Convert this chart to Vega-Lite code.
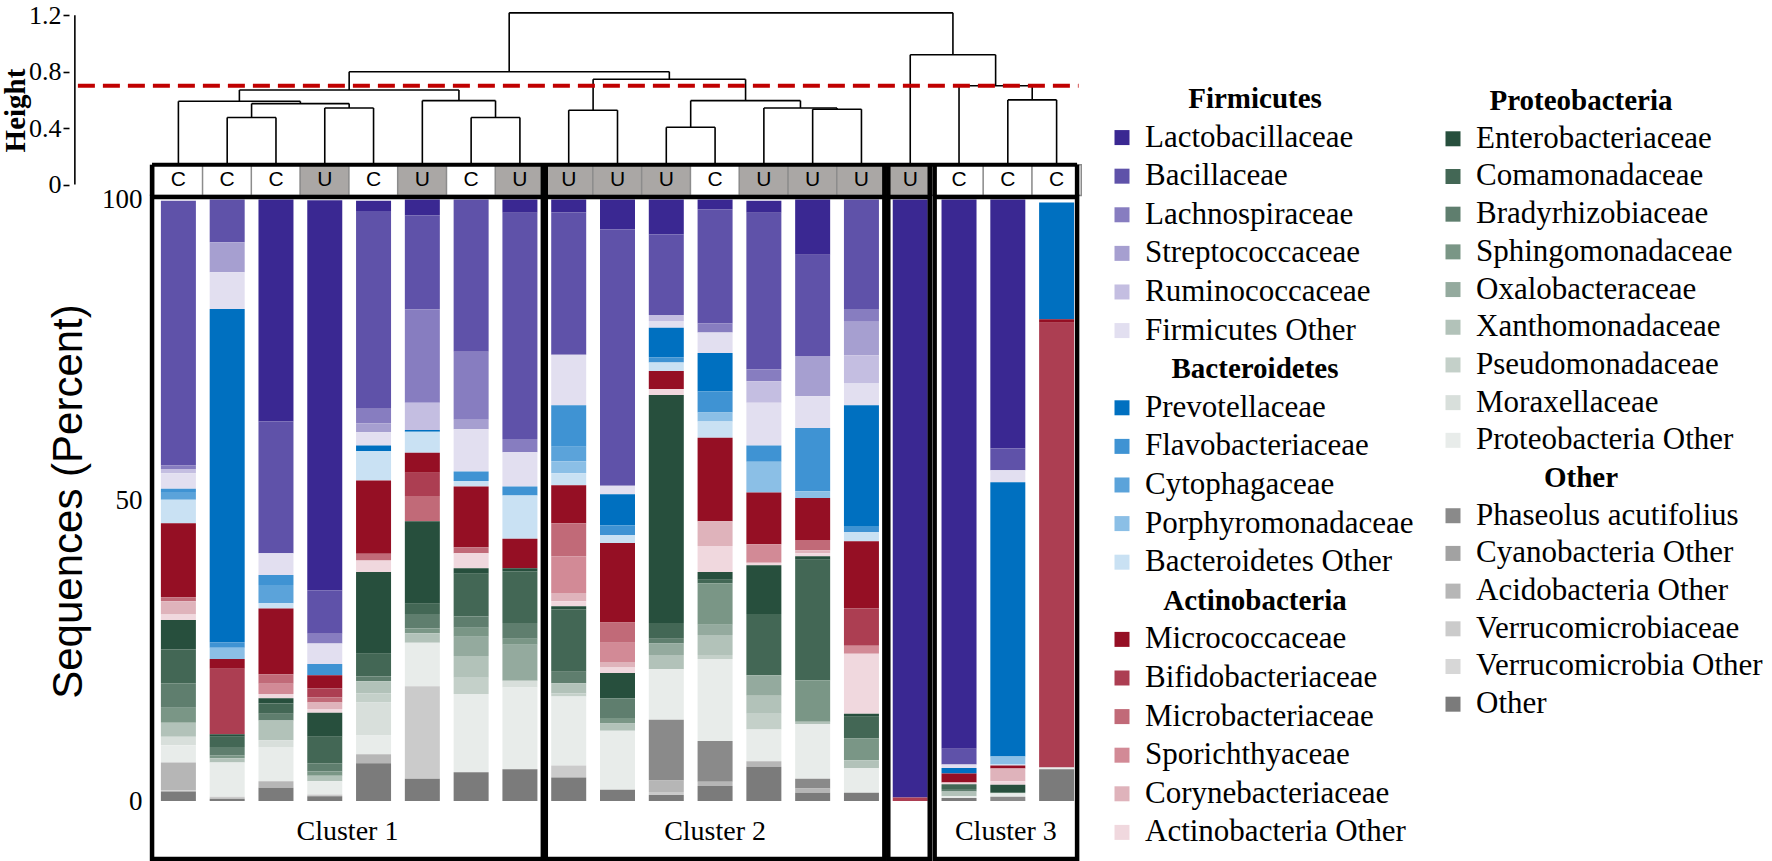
{
"$schema": "https://vega.github.io/schema/vega-lite/v6.json",
"background": "white",
"padding": {"left": 1, "top": 2, "right": 0, "bottom": 0},
"config": {"view": {"stroke": null}, "axis": {"grid": false}},
"datasets": {
"legend": [
{"col":0,"line":0,"header":"Firmicutes"},
{"col":0,"line":1,"taxon":"Lactobacillaceae","rank":0},
{"col":0,"line":2,"taxon":"Bacillaceae","rank":1},
{"col":0,"line":3,"taxon":"Lachnospiraceae","rank":2},
{"col":0,"line":4,"taxon":"Streptococcaceae","rank":3},
{"col":0,"line":5,"taxon":"Ruminococcaceae","rank":4},
{"col":0,"line":6,"taxon":"Firmicutes Other","rank":5},
{"col":0,"line":7,"header":"Bacteroidetes"},
{"col":0,"line":8,"taxon":"Prevotellaceae","rank":6},
{"col":0,"line":9,"taxon":"Flavobacteriaceae","rank":7},
{"col":0,"line":10,"taxon":"Cytophagaceae","rank":8},
{"col":0,"line":11,"taxon":"Porphyromonadaceae","rank":9},
{"col":0,"line":12,"taxon":"Bacteroidetes Other","rank":10},
{"col":0,"line":13,"header":"Actinobacteria"},
{"col":0,"line":14,"taxon":"Micrococcaceae","rank":11},
{"col":0,"line":15,"taxon":"Bifidobacteriaceae","rank":12},
{"col":0,"line":16,"taxon":"Microbacteriaceae","rank":13},
{"col":0,"line":17,"taxon":"Sporichthyaceae","rank":14},
{"col":0,"line":18,"taxon":"Corynebacteriaceae","rank":15},
{"col":0,"line":19,"taxon":"Actinobacteria Other","rank":16},
{"col":1,"line":0,"header":"Proteobacteria"},
{"col":1,"line":1,"taxon":"Enterobacteriaceae","rank":17},
{"col":1,"line":2,"taxon":"Comamonadaceae","rank":18},
{"col":1,"line":3,"taxon":"Bradyrhizobiaceae","rank":19},
{"col":1,"line":4,"taxon":"Sphingomonadaceae","rank":20},
{"col":1,"line":5,"taxon":"Oxalobacteraceae","rank":21},
{"col":1,"line":6,"taxon":"Xanthomonadaceae","rank":22},
{"col":1,"line":7,"taxon":"Pseudomonadaceae","rank":23},
{"col":1,"line":8,"taxon":"Moraxellaceae","rank":24},
{"col":1,"line":9,"taxon":"Proteobacteria Other","rank":25},
{"col":1,"line":10,"header":"Other"},
{"col":1,"line":11,"taxon":"Phaseolus acutifolius","rank":26},
{"col":1,"line":12,"taxon":"Cyanobacteria Other","rank":27},
{"col":1,"line":13,"taxon":"Acidobacteria Other","rank":28},
{"col":1,"line":14,"taxon":"Verrucomicrobiaceae","rank":29},
{"col":1,"line":15,"taxon":"Verrucomicrobia Other","rank":30},
{"col":1,"line":16,"taxon":"Other","rank":31}
],
"samples": [
{"s":0,"group":"C"},{"s":1,"group":"C"},{"s":2,"group":"C"},{"s":3,"group":"U"},{"s":4,"group":"C"},{"s":5,"group":"U"},{"s":6,"group":"C"},{"s":7,"group":"U"},
{"s":8,"group":"U"},{"s":9,"group":"U"},{"s":10,"group":"U"},{"s":11,"group":"C"},{"s":12,"group":"U"},{"s":13,"group":"U"},{"s":14,"group":"U"},
{"s":15,"group":"U"},{"s":16,"group":"C"},{"s":17,"group":"C"},{"s":18,"group":"C"}
],
"clusters": [
{"name":"Cluster 1","x1":-0.54,"x2":7.47,"mid":3.465},
{"name":"Cluster 2","x1":7.53,"x2":14.47,"mid":11.0},
{"name":"","x1":14.55,"x2":15.4,"mid":14.97},
{"name":"Cluster 3","x1":15.5,"x2":18.42,"mid":16.96}
],
"merges": [
{"xl":1,"xr":2,"h":0.475,"hl":0,"hr":0},
{"xl":3,"xr":4,"h":0.543,"hl":0,"hr":0},
{"xl":1.5,"xr":3.5,"h":0.574,"hl":0.475,"hr":0.543},
{"xl":0,"xr":2.5,"h":0.59,"hl":0,"hr":0.574},
{"xl":6,"xr":7,"h":0.475,"hl":0,"hr":0},
{"xl":5,"xr":6.5,"h":0.595,"hl":0,"hr":0.475},
{"xl":1.25,"xr":5.75,"h":0.67,"hl":0.59,"hr":0.595},
{"xl":8,"xr":9,"h":0.527,"hl":0,"hr":0},
{"xl":10,"xr":11,"h":0.406,"hl":0,"hr":0},
{"xl":13,"xr":14,"h":0.534,"hl":0,"hr":0},
{"xl":12,"xr":13.5,"h":0.543,"hl":0,"hr":0.534},
{"xl":10.5,"xr":12.75,"h":0.595,"hl":0.406,"hr":0.543},
{"xl":8.5,"xr":11.625,"h":0.746,"hl":0.527,"hr":0.595},
{"xl":3.5,"xr":10.0625,"h":0.8,"hl":0.67,"hr":0.746},
{"xl":17,"xr":18,"h":0.6,"hl":0,"hr":0},
{"xl":16,"xr":17.5,"h":0.7,"hl":0,"hr":0.6},
{"xl":15,"xr":16.75,"h":0.92,"hl":0,"hr":0.7},
{"xl":6.78,"xr":15.875,"h":1.217,"hl":0.8,"hr":0.92}
],
"bars": [
{"s":0,"taxon":"Bacillaceae","pct":44},{"s":0,"taxon":"Lachnospiraceae","pct":0.6},{"s":0,"taxon":"Ruminococcaceae","pct":0.7},{"s":0,"taxon":"Firmicutes Other","pct":2.6},{"s":0,"taxon":"Flavobacteriaceae","pct":0.5},{"s":0,"taxon":"Cytophagaceae","pct":1.3},{"s":0,"taxon":"Bacteroidetes Other","pct":3.9},{"s":0,"taxon":"Micrococcaceae","pct":12.3},{"s":0,"taxon":"Microbacteriaceae","pct":0.7},{"s":0,"taxon":"Corynebacteriaceae","pct":2.2},{"s":0,"taxon":"Actinobacteria Other","pct":0.9},{"s":0,"taxon":"Enterobacteriaceae","pct":4.9},{"s":0,"taxon":"Comamonadaceae","pct":5.6},{"s":0,"taxon":"Bradyrhizobiaceae","pct":4.1},{"s":0,"taxon":"Sphingomonadaceae","pct":2.5},{"s":0,"taxon":"Xanthomonadaceae","pct":2.3},{"s":0,"taxon":"Moraxellaceae","pct":1.4},{"s":0,"taxon":"Proteobacteria Other","pct":2.9},{"s":0,"taxon":"Acidobacteria Other","pct":4.6},{"s":0,"taxon":"Verrucomicrobiaceae","pct":0.2},{"s":0,"taxon":"Other","pct":1.6},
{"s":1,"taxon":"Bacillaceae","pct":7.1},{"s":1,"taxon":"Streptococcaceae","pct":5.0},{"s":1,"taxon":"Firmicutes Other","pct":6.1},{"s":1,"taxon":"Prevotellaceae","pct":55.4},{"s":1,"taxon":"Flavobacteriaceae","pct":0.9},{"s":1,"taxon":"Porphyromonadaceae","pct":1.9},{"s":1,"taxon":"Micrococcaceae","pct":1.6},{"s":1,"taxon":"Bifidobacteriaceae","pct":10.9},{"s":1,"taxon":"Enterobacteriaceae","pct":0.4},{"s":1,"taxon":"Comamonadaceae","pct":1.7},{"s":1,"taxon":"Bradyrhizobiaceae","pct":1.4},{"s":1,"taxon":"Sphingomonadaceae","pct":0.5},{"s":1,"taxon":"Xanthomonadaceae","pct":0.7},{"s":1,"taxon":"Proteobacteria Other","pct":5.7},{"s":1,"taxon":"Verrucomicrobiaceae","pct":0.3},{"s":1,"taxon":"Other","pct":0.4},
{"s":2,"taxon":"Lactobacillaceae","pct":36.9},{"s":2,"taxon":"Bacillaceae","pct":21.9},{"s":2,"taxon":"Firmicutes Other","pct":3.6},{"s":2,"taxon":"Flavobacteriaceae","pct":1.7},{"s":2,"taxon":"Cytophagaceae","pct":3.0},{"s":2,"taxon":"Bacteroidetes Other","pct":0.9},{"s":2,"taxon":"Micrococcaceae","pct":10.9},{"s":2,"taxon":"Microbacteriaceae","pct":1.6},{"s":2,"taxon":"Sporichthyaceae","pct":1.7},{"s":2,"taxon":"Actinobacteria Other","pct":0.7},{"s":2,"taxon":"Enterobacteriaceae","pct":0.9},{"s":2,"taxon":"Comamonadaceae","pct":1.7},{"s":2,"taxon":"Bradyrhizobiaceae","pct":1.1},{"s":2,"taxon":"Xanthomonadaceae","pct":3.3},{"s":2,"taxon":"Moraxellaceae","pct":1.1},{"s":2,"taxon":"Proteobacteria Other","pct":5.7},{"s":2,"taxon":"Acidobacteria Other","pct":1.1},{"s":2,"taxon":"Other","pct":2.2},
{"s":3,"taxon":"Lactobacillaceae","pct":64.9},{"s":3,"taxon":"Bacillaceae","pct":7.2},{"s":3,"taxon":"Lachnospiraceae","pct":1.6},{"s":3,"taxon":"Firmicutes Other","pct":3.4},{"s":3,"taxon":"Flavobacteriaceae","pct":1.9},{"s":3,"taxon":"Micrococcaceae","pct":2.2},{"s":3,"taxon":"Bifidobacteriaceae","pct":1.5},{"s":3,"taxon":"Microbacteriaceae","pct":0.8},{"s":3,"taxon":"Corynebacteriaceae","pct":1.1},{"s":3,"taxon":"Actinobacteria Other","pct":0.6},{"s":3,"taxon":"Enterobacteriaceae","pct":4.0},{"s":3,"taxon":"Comamonadaceae","pct":4.4},{"s":3,"taxon":"Bradyrhizobiaceae","pct":1.4},{"s":3,"taxon":"Sphingomonadaceae","pct":0.7},{"s":3,"taxon":"Xanthomonadaceae","pct":0.9},{"s":3,"taxon":"Proteobacteria Other","pct":2.2},{"s":3,"taxon":"Verrucomicrobiaceae","pct":0.3},{"s":3,"taxon":"Other","pct":0.8},
{"s":4,"taxon":"Lactobacillaceae","pct":1.7},{"s":4,"taxon":"Bacillaceae","pct":32.9},{"s":4,"taxon":"Lachnospiraceae","pct":2.4},{"s":4,"taxon":"Streptococcaceae","pct":1.5},{"s":4,"taxon":"Firmicutes Other","pct":2.2},{"s":4,"taxon":"Prevotellaceae","pct":0.9},{"s":4,"taxon":"Bacteroidetes Other","pct":4.9},{"s":4,"taxon":"Micrococcaceae","pct":12.2},{"s":4,"taxon":"Microbacteriaceae","pct":1.1},{"s":4,"taxon":"Actinobacteria Other","pct":1.9},{"s":4,"taxon":"Enterobacteriaceae","pct":13.6},{"s":4,"taxon":"Comamonadaceae","pct":3.8},{"s":4,"taxon":"Bradyrhizobiaceae","pct":0.8},{"s":4,"taxon":"Xanthomonadaceae","pct":2.0},{"s":4,"taxon":"Pseudomonadaceae","pct":1.5},{"s":4,"taxon":"Moraxellaceae","pct":5.5},{"s":4,"taxon":"Proteobacteria Other","pct":3.1},{"s":4,"taxon":"Acidobacteria Other","pct":1.5},{"s":4,"taxon":"Other","pct":6.3},
{"s":5,"taxon":"Lactobacillaceae","pct":2.6},{"s":5,"taxon":"Bacillaceae","pct":15.7},{"s":5,"taxon":"Lachnospiraceae","pct":15.5},{"s":5,"taxon":"Ruminococcaceae","pct":4.5},{"s":5,"taxon":"Prevotellaceae","pct":0.3},{"s":5,"taxon":"Bacteroidetes Other","pct":3.5},{"s":5,"taxon":"Micrococcaceae","pct":3.3},{"s":5,"taxon":"Bifidobacteriaceae","pct":3.9},{"s":5,"taxon":"Microbacteriaceae","pct":4.2},{"s":5,"taxon":"Enterobacteriaceae","pct":13.7},{"s":5,"taxon":"Comamonadaceae","pct":1.7},{"s":5,"taxon":"Bradyrhizobiaceae","pct":2.4},{"s":5,"taxon":"Sphingomonadaceae","pct":0.8},{"s":5,"taxon":"Xanthomonadaceae","pct":1.6},{"s":5,"taxon":"Proteobacteria Other","pct":7.2},{"s":5,"taxon":"Verrucomicrobiaceae","pct":15.4},{"s":5,"taxon":"Other","pct":3.7},
{"s":6,"taxon":"Bacillaceae","pct":25.3},{"s":6,"taxon":"Lachnospiraceae","pct":11.3},{"s":6,"taxon":"Streptococcaceae","pct":1.6},{"s":6,"taxon":"Firmicutes Other","pct":7.0},{"s":6,"taxon":"Flavobacteriaceae","pct":1.6},{"s":6,"taxon":"Bacteroidetes Other","pct":0.9},{"s":6,"taxon":"Micrococcaceae","pct":10.1},{"s":6,"taxon":"Microbacteriaceae","pct":1.0},{"s":6,"taxon":"Actinobacteria Other","pct":2.5},{"s":6,"taxon":"Enterobacteriaceae","pct":0.9},{"s":6,"taxon":"Comamonadaceae","pct":7.1},{"s":6,"taxon":"Bradyrhizobiaceae","pct":1.9},{"s":6,"taxon":"Sphingomonadaceae","pct":1.5},{"s":6,"taxon":"Oxalobacteraceae","pct":3.2},{"s":6,"taxon":"Xanthomonadaceae","pct":3.6},{"s":6,"taxon":"Pseudomonadaceae","pct":2.7},{"s":6,"taxon":"Proteobacteria Other","pct":13.0},{"s":6,"taxon":"Other","pct":4.8},
{"s":7,"taxon":"Lactobacillaceae","pct":2.2},{"s":7,"taxon":"Bacillaceae","pct":37.6},{"s":7,"taxon":"Lachnospiraceae","pct":2.2},{"s":7,"taxon":"Firmicutes Other","pct":5.7},{"s":7,"taxon":"Flavobacteriaceae","pct":1.5},{"s":7,"taxon":"Bacteroidetes Other","pct":7.2},{"s":7,"taxon":"Micrococcaceae","pct":4.9},{"s":7,"taxon":"Enterobacteriaceae","pct":0.5},{"s":7,"taxon":"Comamonadaceae","pct":8.6},{"s":7,"taxon":"Bradyrhizobiaceae","pct":2.6},{"s":7,"taxon":"Sphingomonadaceae","pct":1.0},{"s":7,"taxon":"Oxalobacteraceae","pct":6.0},{"s":7,"taxon":"Moraxellaceae","pct":1.1},{"s":7,"taxon":"Proteobacteria Other","pct":13.6},{"s":7,"taxon":"Other","pct":5.3},
{"s":8,"taxon":"Lactobacillaceae","pct":2.1},{"s":8,"taxon":"Bacillaceae","pct":23.7},{"s":8,"taxon":"Firmicutes Other","pct":8.4},{"s":8,"taxon":"Flavobacteriaceae","pct":6.9},{"s":8,"taxon":"Cytophagaceae","pct":2.4},{"s":8,"taxon":"Porphyromonadaceae","pct":2.0},{"s":8,"taxon":"Bacteroidetes Other","pct":2.0},{"s":8,"taxon":"Micrococcaceae","pct":6.3},{"s":8,"taxon":"Microbacteriaceae","pct":5.5},{"s":8,"taxon":"Sporichthyaceae","pct":6.1},{"s":8,"taxon":"Corynebacteriaceae","pct":1.4},{"s":8,"taxon":"Actinobacteria Other","pct":0.8},{"s":8,"taxon":"Enterobacteriaceae","pct":0.5},{"s":8,"taxon":"Comamonadaceae","pct":10.4},{"s":8,"taxon":"Bradyrhizobiaceae","pct":1.9},{"s":8,"taxon":"Xanthomonadaceae","pct":1.7},{"s":8,"taxon":"Pseudomonadaceae","pct":0.5},{"s":8,"taxon":"Proteobacteria Other","pct":11.5},{"s":8,"taxon":"Verrucomicrobiaceae","pct":2.0},{"s":8,"taxon":"Other","pct":3.9},
{"s":9,"taxon":"Lactobacillaceae","pct":5.0},{"s":9,"taxon":"Bacillaceae","pct":42.6},{"s":9,"taxon":"Firmicutes Other","pct":1.4},{"s":9,"taxon":"Prevotellaceae","pct":5.2},{"s":9,"taxon":"Flavobacteriaceae","pct":1.6},{"s":9,"taxon":"Bacteroidetes Other","pct":1.3},{"s":9,"taxon":"Micrococcaceae","pct":13.2},{"s":9,"taxon":"Microbacteriaceae","pct":3.4},{"s":9,"taxon":"Sporichthyaceae","pct":3.2},{"s":9,"taxon":"Corynebacteriaceae","pct":0.9},{"s":9,"taxon":"Actinobacteria Other","pct":0.9},{"s":9,"taxon":"Enterobacteriaceae","pct":4.2},{"s":9,"taxon":"Bradyrhizobiaceae","pct":3.3},{"s":9,"taxon":"Sphingomonadaceae","pct":0.9},{"s":9,"taxon":"Xanthomonadaceae","pct":1.2},{"s":9,"taxon":"Proteobacteria Other","pct":9.8},{"s":9,"taxon":"Other","pct":1.9},
{"s":10,"taxon":"Lactobacillaceae","pct":5.8},{"s":10,"taxon":"Bacillaceae","pct":13.4},{"s":10,"taxon":"Ruminococcaceae","pct":1.0},{"s":10,"taxon":"Firmicutes Other","pct":1.1},{"s":10,"taxon":"Prevotellaceae","pct":4.9},{"s":10,"taxon":"Flavobacteriaceae","pct":0.9},{"s":10,"taxon":"Bacteroidetes Other","pct":1.4},{"s":10,"taxon":"Micrococcaceae","pct":3.0},{"s":10,"taxon":"Actinobacteria Other","pct":1.0},{"s":10,"taxon":"Enterobacteriaceae","pct":37.9},{"s":10,"taxon":"Comamonadaceae","pct":2.6},{"s":10,"taxon":"Bradyrhizobiaceae","pct":0.8},{"s":10,"taxon":"Oxalobacteraceae","pct":1.9},{"s":10,"taxon":"Xanthomonadaceae","pct":2.4},{"s":10,"taxon":"Proteobacteria Other","pct":8.4},{"s":10,"taxon":"Phaseolus acutifolius","pct":10.1},{"s":10,"taxon":"Acidobacteria Other","pct":1.9},{"s":10,"taxon":"Verrucomicrobiaceae","pct":0.5},{"s":10,"taxon":"Other","pct":1.0},
{"s":11,"taxon":"Lactobacillaceae","pct":1.6},{"s":11,"taxon":"Bacillaceae","pct":19.0},{"s":11,"taxon":"Lachnospiraceae","pct":1.5},{"s":11,"taxon":"Firmicutes Other","pct":3.4},{"s":11,"taxon":"Prevotellaceae","pct":6.4},{"s":11,"taxon":"Flavobacteriaceae","pct":3.5},{"s":11,"taxon":"Porphyromonadaceae","pct":1.5},{"s":11,"taxon":"Bacteroidetes Other","pct":2.7},{"s":11,"taxon":"Micrococcaceae","pct":13.9},{"s":11,"taxon":"Corynebacteriaceae","pct":4.1},{"s":11,"taxon":"Actinobacteria Other","pct":4.3},{"s":11,"taxon":"Enterobacteriaceae","pct":1.3},{"s":11,"taxon":"Comamonadaceae","pct":0.6},{"s":11,"taxon":"Sphingomonadaceae","pct":6.9},{"s":11,"taxon":"Oxalobacteraceae","pct":1.7},{"s":11,"taxon":"Xanthomonadaceae","pct":3.3},{"s":11,"taxon":"Pseudomonadaceae","pct":0.7},{"s":11,"taxon":"Proteobacteria Other","pct":13.6},{"s":11,"taxon":"Phaseolus acutifolius","pct":6.8},{"s":11,"taxon":"Acidobacteria Other","pct":0.7},{"s":11,"taxon":"Other","pct":2.5},
{"s":12,"taxon":"Lactobacillaceae","pct":2.0},{"s":12,"taxon":"Bacillaceae","pct":26.0},{"s":12,"taxon":"Lachnospiraceae","pct":2.0},{"s":12,"taxon":"Ruminococcaceae","pct":3.6},{"s":12,"taxon":"Firmicutes Other","pct":7.1},{"s":12,"taxon":"Flavobacteriaceae","pct":2.7},{"s":12,"taxon":"Porphyromonadaceae","pct":5.1},{"s":12,"taxon":"Micrococcaceae","pct":8.6},{"s":12,"taxon":"Sporichthyaceae","pct":3.1},{"s":12,"taxon":"Actinobacteria Other","pct":0.4},{"s":12,"taxon":"Enterobacteriaceae","pct":8.1},{"s":12,"taxon":"Comamonadaceae","pct":10.2},{"s":12,"taxon":"Oxalobacteraceae","pct":3.4},{"s":12,"taxon":"Xanthomonadaceae","pct":3.0},{"s":12,"taxon":"Pseudomonadaceae","pct":2.6},{"s":12,"taxon":"Proteobacteria Other","pct":5.3},{"s":12,"taxon":"Acidobacteria Other","pct":0.9},{"s":12,"taxon":"Other","pct":5.7},
{"s":13,"taxon":"Lactobacillaceae","pct":9.2},{"s":13,"taxon":"Bacillaceae","pct":16.8},{"s":13,"taxon":"Streptococcaceae","pct":6.7},{"s":13,"taxon":"Firmicutes Other","pct":5.3},{"s":13,"taxon":"Flavobacteriaceae","pct":10.5},{"s":13,"taxon":"Porphyromonadaceae","pct":1.1},{"s":13,"taxon":"Micrococcaceae","pct":7.0},{"s":13,"taxon":"Microbacteriaceae","pct":1.7},{"s":13,"taxon":"Corynebacteriaceae","pct":0.5},{"s":13,"taxon":"Actinobacteria Other","pct":0.5},{"s":13,"taxon":"Enterobacteriaceae","pct":0.6},{"s":13,"taxon":"Comamonadaceae","pct":20.0},{"s":13,"taxon":"Sphingomonadaceae","pct":6.9},{"s":13,"taxon":"Xanthomonadaceae","pct":0.4},{"s":13,"taxon":"Proteobacteria Other","pct":9.1},{"s":13,"taxon":"Phaseolus acutifolius","pct":1.6},{"s":13,"taxon":"Acidobacteria Other","pct":0.7},{"s":13,"taxon":"Other","pct":1.4},
{"s":14,"taxon":"Bacillaceae","pct":18.2},{"s":14,"taxon":"Lachnospiraceae","pct":2.1},{"s":14,"taxon":"Streptococcaceae","pct":5.6},{"s":14,"taxon":"Ruminococcaceae","pct":4.7},{"s":14,"taxon":"Firmicutes Other","pct":3.6},{"s":14,"taxon":"Prevotellaceae","pct":20.2},{"s":14,"taxon":"Flavobacteriaceae","pct":0.9},{"s":14,"taxon":"Bacteroidetes Other","pct":1.5},{"s":14,"taxon":"Micrococcaceae","pct":11.2},{"s":14,"taxon":"Bifidobacteriaceae","pct":6.2},{"s":14,"taxon":"Sporichthyaceae","pct":1.3},{"s":14,"taxon":"Actinobacteria Other","pct":10.0},{"s":14,"taxon":"Enterobacteriaceae","pct":0.5},{"s":14,"taxon":"Comamonadaceae","pct":3.6},{"s":14,"taxon":"Sphingomonadaceae","pct":3.6},{"s":14,"taxon":"Xanthomonadaceae","pct":1.3},{"s":14,"taxon":"Proteobacteria Other","pct":4.1},{"s":14,"taxon":"Other","pct":1.4},
{"s":15,"taxon":"Lactobacillaceae","pct":99.4},{"s":15,"taxon":"Bifidobacteriaceae","pct":0.6},
{"s":16,"taxon":"Lactobacillaceae","pct":91.3},{"s":16,"taxon":"Bacillaceae","pct":2.6},{"s":16,"taxon":"Firmicutes Other","pct":0.6},{"s":16,"taxon":"Prevotellaceae","pct":0.9},{"s":16,"taxon":"Micrococcaceae","pct":1.5},{"s":16,"taxon":"Actinobacteria Other","pct":0.3},{"s":16,"taxon":"Comamonadaceae","pct":0.8},{"s":16,"taxon":"Bradyrhizobiaceae","pct":0.4},{"s":16,"taxon":"Xanthomonadaceae","pct":0.8},{"s":16,"taxon":"Proteobacteria Other","pct":0.3},{"s":16,"taxon":"Other","pct":0.5},
{"s":17,"taxon":"Lactobacillaceae","pct":41.4},{"s":17,"taxon":"Bacillaceae","pct":3.6},{"s":17,"taxon":"Firmicutes Other","pct":2.0},{"s":17,"taxon":"Prevotellaceae","pct":45.6},{"s":17,"taxon":"Porphyromonadaceae","pct":1.3},{"s":17,"taxon":"Bacteroidetes Other","pct":0.2},{"s":17,"taxon":"Micrococcaceae","pct":0.5},{"s":17,"taxon":"Corynebacteriaceae","pct":2.1},{"s":17,"taxon":"Actinobacteria Other","pct":0.6},{"s":17,"taxon":"Enterobacteriaceae","pct":1.2},{"s":17,"taxon":"Bradyrhizobiaceae","pct":0.2},{"s":17,"taxon":"Proteobacteria Other","pct":0.6},{"s":17,"taxon":"Phaseolus acutifolius","pct":0.7},
{"s":18,"taxon":"Prevotellaceae","pct":19.4},{"s":18,"taxon":"Micrococcaceae","pct":0.6},{"s":18,"taxon":"Bifidobacteriaceae","pct":73.9},{"s":18,"taxon":"Proteobacteria Other","pct":0.3},{"s":18,"taxon":"Other","pct":5.3}
]
},
"hconcat": [
{
"vconcat": [
{
"width": 937, "height": 186,
"layer": [
{"data": {"name": "merges"}, "mark": {"type": "rule", "stroke": "black", "strokeWidth": 1.6},
 "encoding": {
  "x": {"field": "xl", "type": "quantitative", "scale": {"domain": [-0.5, 18.5], "nice": false, "zero": false}, "axis": null},
  "x2": {"field": "xr"},
  "y": {"field": "h", "type": "quantitative", "scale": {"domain": [-0.088, 1.23], "nice": false, "zero": false},
   "axis": {"values": [0, 0.2, 0.4, 0.6, 0.8, 1.0, 1.2], "labelExpr": "round(datum.value*10) % 4 == 2 ? '' : datum.label", "format": "~g", "offset": 80, "domain": false, "tickSize": 6, "tickWidth": 1.6, "tickColor": "black", "labelFont": "Liberation Serif", "labelFontSize": 26, "labelColor": "black", "labelPadding": 2, "title": "Height", "titleFont": "Liberation Serif", "titleFontSize": 29, "titleFontWeight": "bold", "titleColor": "black", "titleAngle": 270, "titleBaseline": "middle", "titleAlign": "center", "titleX": -54, "titleY": 99}}
 }},
{"data": {"name": "merges"}, "mark": {"type": "rule", "stroke": "black", "strokeWidth": 1.6},
 "encoding": {"x": {"field": "xl", "type": "quantitative"}, "y": {"field": "hl", "type": "quantitative"}, "y2": {"field": "h"}}},
{"data": {"name": "merges"}, "mark": {"type": "rule", "stroke": "black", "strokeWidth": 1.6},
 "encoding": {"x": {"field": "xr", "type": "quantitative"}, "y": {"field": "hr", "type": "quantitative"}, "y2": {"field": "h"}}},
{"data": {"values": [{}]}, "mark": {"type": "rule", "stroke": "black", "strokeWidth": 1.6},
 "encoding": {"x": {"datum": -2.122, "type": "quantitative"}, "y": {"datum": 0, "type": "quantitative"}, "y2": {"datum": 1.2}}},
{"data": {"values": [{}]}, "mark": {"type": "rule", "stroke": "#c00000", "strokeWidth": 4, "strokeDash": [17, 8]},
 "encoding": {"x": {"datum": -2.06, "type": "quantitative"}, "x2": {"datum": 18.45}, "y": {"datum": 0.7, "type": "quantitative"}}},
{"data": {"name": "samples"}, "mark": {"type": "bar", "width": 49.3, "stroke": "#8c8c8c", "strokeWidth": 1.5},
 "encoding": {"x": {"field": "s", "type": "quantitative"}, "y": {"datum": -0.078, "type": "quantitative"}, "y2": {"datum": 0.141},
  "fill": {"field": "group", "type": "nominal", "scale": {"domain": ["C", "U"], "range": ["#ffffff", "#aaa7a5"]}, "legend": null}}},
{"data": {"name": "samples"}, "mark": {"type": "text", "font": "Liberation Sans", "fontSize": 21, "baseline": "middle", "align": "center", "color": "black"},
 "encoding": {"x": {"field": "s", "type": "quantitative"}, "y": {"datum": 0.032, "type": "quantitative"}, "text": {"field": "group"}}},
{"data": {"values": [{}]}, "mark": {"type": "rule", "stroke": "black", "strokeWidth": 4},
 "encoding": {"x": {"datum": -0.54, "type": "quantitative"}, "x2": {"datum": 18.42}, "y": {"datum": 0.141, "type": "quantitative"}}},
{"data": {"name": "clusters"}, "mark": {"type": "rule", "stroke": "black", "strokeWidth": 4.5},
 "encoding": {"x": {"field": "x1", "type": "quantitative"}, "y": {"datum": -0.078, "type": "quantitative"}, "y2": {"datum": 0.141}}},
{"data": {"name": "clusters"}, "mark": {"type": "rule", "stroke": "black", "strokeWidth": 4.5},
 "encoding": {"x": {"field": "x2", "type": "quantitative"}, "y": {"datum": -0.078, "type": "quantitative"}, "y2": {"datum": 0.141}}}
]
},
{
"width": 937, "height": 662,
"layer": [
{"data": {"name": "bars"},
 "transform": [{"lookup": "taxon", "from": {"data": {"name": "legend"}, "key": "taxon", "fields": ["rank"]}}],
 "mark": {"type": "bar", "width": 35},
 "encoding": {
  "x": {"field": "s", "type": "quantitative", "scale": {"domain": [-0.5, 18.5], "nice": false, "zero": false}, "axis": null},
  "y": {"field": "pct", "type": "quantitative", "stack": "zero", "scale": {"domain": [-9.63, 100.42], "nice": false, "zero": false},
   "axis": {"values": [0, 50, 100], "domain": false, "ticks": false, "labelFont": "Liberation Serif", "labelFontSize": 27, "labelColor": "black", "labelPadding": 7, "title": "Sequences (Percent)", "titleFont": "Liberation Sans", "titleFontSize": 42, "titleFontWeight": "normal", "titleColor": "black", "titleAngle": 270, "titleBaseline": "middle", "titleAlign": "center", "titleX": -81, "titleY": 304}},
  "color": {"field": "taxon", "type": "nominal", "legend": null, "scale": {
   "domain": ["Lactobacillaceae","Bacillaceae","Lachnospiraceae","Streptococcaceae","Ruminococcaceae","Firmicutes Other","Prevotellaceae","Flavobacteriaceae","Cytophagaceae","Porphyromonadaceae","Bacteroidetes Other","Micrococcaceae","Bifidobacteriaceae","Microbacteriaceae","Sporichthyaceae","Corynebacteriaceae","Actinobacteria Other","Enterobacteriaceae","Comamonadaceae","Bradyrhizobiaceae","Sphingomonadaceae","Oxalobacteraceae","Xanthomonadaceae","Pseudomonadaceae","Moraxellaceae","Proteobacteria Other","Phaseolus acutifolius","Cyanobacteria Other","Acidobacteria Other","Verrucomicrobiaceae","Verrucomicrobia Other","Other"],
   "range": ["#3a2892","#5f52a9","#877dc0","#a69fd0","#c4bee1","#e2dff0","#0070c0","#3f93d3","#5ba3da","#8bbfe6","#c9e1f3","#950f24","#ac3e52","#c16a78","#d28a96","#dfb3bb","#f0d8de","#274f3d","#436755","#5f7e6e","#7a9686","#94aa9e","#b2c2b9","#c4d0c9","#d8dfdb","#e8ecea","#8a8a8a","#a2a2a2","#b6b6b6","#cbcbcb","#d7d7d7","#7b7b7b"]}},
  "order": {"field": "rank", "type": "quantitative", "sort": "descending"}
 }},
{"data": {"name": "clusters"}, "mark": {"type": "rect", "fillOpacity": 0, "stroke": "black", "strokeWidth": 4.5},
 "encoding": {"x": {"field": "x1", "type": "quantitative"}, "x2": {"field": "x2"}, "y": {"datum": -9.63, "type": "quantitative"}, "y2": {"datum": 100.42}}},
{"data": {"name": "clusters"}, "mark": {"type": "text", "font": "Liberation Serif", "fontSize": 28, "baseline": "middle", "align": "center", "color": "black"},
 "encoding": {"x": {"field": "mid", "type": "quantitative"}, "y": {"datum": -5.1, "type": "quantitative"}, "text": {"field": "name"}}}
]
}
],
"spacing": 0,
"bounds": "flush"
},
{
"width": 331, "height": 850,
"data": {"name": "legend"},
"layer": [
{"transform": [{"filter": "datum.col == 0 && isValid(datum.taxon)"}],
 "mark": {"type": "point", "shape": "square", "filled": true, "size": 225, "opacity": 1},
 "encoding": {"x": {"field": "col", "type": "quantitative", "scale": {"domain": [0, 1], "nice": false, "zero": false}, "axis": null},
  "y": {"field": "line", "type": "quantitative", "scale": {"domain": [-2.279, 19.741], "reverse": true, "nice": false, "zero": false}, "axis": null},
  "color": {"field": "taxon", "type": "nominal", "legend": null}}},
{"transform": [{"filter": "datum.col == 0 && isValid(datum.taxon)"}],
 "mark": {"type": "text", "align": "left", "baseline": "middle", "dx": 23, "font": "Liberation Serif", "fontSize": 31, "color": "black"},
 "encoding": {"x": {"field": "col", "type": "quantitative"},
  "y": {"field": "line", "type": "quantitative", "scale": {"domain": [-2.279, 19.741], "reverse": true, "nice": false, "zero": false}, "axis": null},
  "text": {"field": "taxon"}}},
{"transform": [{"filter": "datum.col == 0 && isValid(datum.header)"}],
 "mark": {"type": "text", "align": "center", "baseline": "middle", "dx": 133, "font": "Liberation Serif", "fontSize": 29, "fontWeight": "bold", "color": "black"},
 "encoding": {"x": {"field": "col", "type": "quantitative"},
  "y": {"field": "line", "type": "quantitative", "scale": {"domain": [-2.279, 19.741], "reverse": true, "nice": false, "zero": false}, "axis": null},
  "text": {"field": "header"}}},
{"transform": [{"filter": "datum.col == 1 && isValid(datum.taxon)"}],
 "mark": {"type": "point", "shape": "square", "filled": true, "size": 225, "opacity": 1},
 "encoding": {"x": {"field": "col", "type": "quantitative"},
  "y": {"field": "line", "type": "quantitative", "scale": {"domain": [-2.39, 20.16], "reverse": true, "nice": false, "zero": false}, "axis": null},
  "color": {"field": "taxon", "type": "nominal", "legend": null}}},
{"transform": [{"filter": "datum.col == 1 && isValid(datum.taxon)"}],
 "mark": {"type": "text", "align": "left", "baseline": "middle", "dx": 23, "font": "Liberation Serif", "fontSize": 31, "color": "black"},
 "encoding": {"x": {"field": "col", "type": "quantitative"},
  "y": {"field": "line", "type": "quantitative", "scale": {"domain": [-2.39, 20.16], "reverse": true, "nice": false, "zero": false}, "axis": null},
  "text": {"field": "taxon"}}},
{"transform": [{"filter": "datum.col == 1 && isValid(datum.header)"}],
 "mark": {"type": "text", "align": "center", "baseline": "middle", "dx": 128, "font": "Liberation Serif", "fontSize": 29, "fontWeight": "bold", "color": "black"},
 "encoding": {"x": {"field": "col", "type": "quantitative"},
  "y": {"field": "line", "type": "quantitative", "scale": {"domain": [-2.39, 20.16], "reverse": true, "nice": false, "zero": false}, "axis": null},
  "text": {"field": "header"}}}
],
"resolve": {"scale": {"y": "independent"}}
}
],
"spacing": 28,
"bounds": "full"
}
